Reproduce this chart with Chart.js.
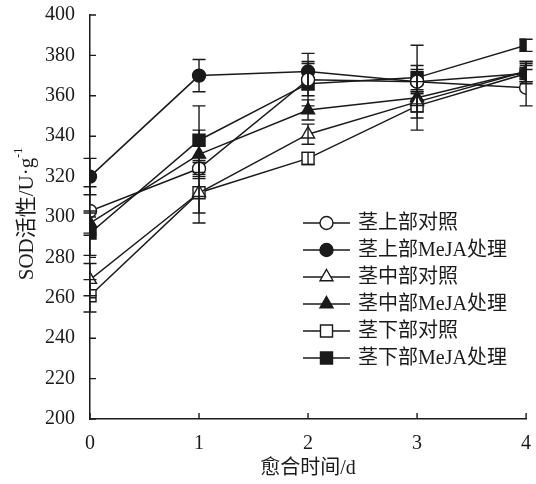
<!DOCTYPE html>
<html>
<head>
<meta charset="utf-8">
<script src="https://cdn.jsdelivr.net/npm/chart.js@4.4.1/dist/chart.umd.min.js"></script>
<style>
  html, body { margin: 0; padding: 0; background: #ffffff; }
  #wrap { width: 536px; height: 484px; }
</style>
</head>
<body>
<div id="wrap"><canvas id="c" width="536" height="484"></canvas></div>
<script>
// Healing time (days)
const days = [0, 1, 2, 3, 4];
const yTicks = [200, 220, 240, 260, 280, 300, 320, 340, 360, 380, 400];

// Series names
const seriesNames = ['茎上部对照', '茎上部MeJA处理', '茎中部对照', '茎中部MeJA处理', '茎下部对照', '茎下部MeJA处理'];

// SOD activity (U·g⁻¹) means
const upperCK    = [303, 324, 368, 367, 364];
const upperMeJA  = [320, 370, 372, 367, 371];
const middleCK   = [269, 312, 341, 357, 372];
const middleMeJA = [297, 331, 353, 359, 372];
const lowerCK    = [261, 312, 329, 355, 371];
const lowerMeJA  = [292, 338, 366, 369, 385];

// Standard errors
const upperCKErr    = [12, 4, 8, 18, 9];
const upperMeJAErr  = [9, 8, 9, 6, 5];
const middleCKErr   = [8, 15, 5, 5, 5];
const middleMeJAErr = [5, 12, 5, 3, 5];
const lowerCKErr    = [8, 10, 3, 12, 4];
const lowerMeJAErr  = [11, 17, 11, 6, 3];

const INK = '#1a1a1a';
const SERIF = "'Liberation Serif', 'Noto Sans CJK SC', serif";

const means = [upperCK, upperMeJA, middleCK, middleMeJA, lowerCK, lowerMeJA];
const errs = [upperCKErr, upperMeJAErr, middleCKErr, middleMeJAErr, lowerCKErr, lowerMeJAErr];
const styles = [
  { shape: 'circle',   filled: false, r: 6.5 },
  { shape: 'circle',   filled: true,  r: 6.5 },
  { shape: 'triangle', filled: false, r: 7.5 },
  { shape: 'triangle', filled: true,  r: 7.5 },
  { shape: 'rect',     filled: false, r: 8.5 },
  { shape: 'rect',     filled: true,  r: 8.5 }
];

const datasets = means.map((vals, k) => ({
  label: seriesNames[k],
  data: days.map((d, i) => ({ x: d, y: vals[i] })),
  errors: errs[k],
  borderColor: INK,
  borderWidth: 1.5,
  pointStyle: styles[k].shape,
  pointRadius: styles[k].r,
  pointBorderWidth: 1.4,
  pointBorderColor: INK,
  pointBackgroundColor: styles[k].filled ? INK : '#ffffff',
  tension: 0,
  fill: false
}));

// Vertical error bars with caps
const errorBars = {
  id: 'errorBars',
  afterDatasetsDraw(chart) {
    const { ctx, scales: { x, y } } = chart;
    ctx.save();
    ctx.strokeStyle = INK;
    ctx.lineWidth = 1.4;
    chart.data.datasets.forEach(ds => {
      ds.data.forEach((p, i) => {
        const e = ds.errors[i];
        const px = x.getPixelForValue(p.x);
        const top = y.getPixelForValue(p.y + e);
        const bot = y.getPixelForValue(p.y - e);
        ctx.beginPath();
        ctx.moveTo(px, top); ctx.lineTo(px, bot);
        ctx.moveTo(px - 6.5, top); ctx.lineTo(px + 6.5, top);
        ctx.moveTo(px - 6.5, bot); ctx.lineTo(px + 6.5, bot);
        ctx.stroke();
      });
    });
    ctx.restore();
  }
};

// Inward tick marks, axis titles and the legend
const decorations = {
  id: 'decorations',
  afterDraw(chart) {
    const { ctx, chartArea: a, scales: { x, y } } = chart;
    ctx.save();
    ctx.strokeStyle = INK;
    ctx.lineWidth = 1.4;
    ctx.beginPath();
    yTicks.forEach(v => {
      const py = y.getPixelForValue(v);
      ctx.moveTo(a.left, py); ctx.lineTo(a.left + 6, py);
    });
    days.forEach(v => {
      const px = x.getPixelForValue(v);
      ctx.moveTo(px, a.bottom); ctx.lineTo(px, a.bottom - 6);
    });
    ctx.stroke();

    // x-axis title
    ctx.fillStyle = INK;
    ctx.font = '20px ' + SERIF;
    ctx.textAlign = 'center';
    ctx.textBaseline = 'middle';
    ctx.fillText('愈合时间/d', (a.left + a.right) / 2, 469);

    // y-axis title with superscript
    const main = 'SOD活性/U·g';
    ctx.font = '21px ' + SERIF;
    const wMain = ctx.measureText(main).width;
    ctx.font = '12px ' + SERIF;
    const wSup = ctx.measureText('-1').width;
    const total = wMain + wSup;
    ctx.translate(27, 214);
    ctx.rotate(-Math.PI / 2);
    ctx.textAlign = 'left';
    ctx.textBaseline = 'middle';
    ctx.font = '21px ' + SERIF;
    ctx.fillText(main, -total / 2, 0);
    ctx.font = '12px ' + SERIF;
    ctx.fillText('-1', -total / 2 + wMain, -8);
    ctx.setTransform(1, 0, 0, 1, 0, 0);

    // legend
    const rows = [223, 250, 277, 304, 331, 358];
    chart.data.datasets.forEach((ds, k) => {
      const ry = rows[k];
      ctx.strokeStyle = INK;
      ctx.lineWidth = 1.4;
      ctx.beginPath();
      ctx.moveTo(303, ry); ctx.lineTo(350, ry);
      ctx.stroke();
      ctx.fillStyle = ds.pointBackgroundColor;
      ctx.strokeStyle = INK;
      Chart.helpers.drawPoint(ctx, {
        pointStyle: ds.pointStyle,
        radius: ds.pointRadius,
        rotation: 0,
        borderWidth: 1.4
      }, 326.5, ry);
      ctx.fillStyle = INK;
      ctx.font = '20px ' + SERIF;
      ctx.textAlign = 'left';
      ctx.textBaseline = 'middle';
      ctx.fillText(ds.label, 358, ry + 1);
    });
    ctx.restore();
  }
};

new Chart(document.getElementById('c'), {
  type: 'line',
  data: { datasets },
  options: {
    responsive: false,
    animation: false,
    layout: { padding: { top: 15, right: 6, left: 0, bottom: 0 } },
    plugins: { legend: { display: false }, tooltip: { enabled: false } },
    scales: {
      x: {
        type: 'linear',
        min: 0, max: 4,
        afterFit(s) { s.height = 65; s.paddingLeft = 0; s.paddingRight = 0; },
        afterUpdate(s) { s.paddingRight = 0; },
        grid: { display: false },
        border: { display: true, color: INK, width: 1.5 },
        ticks: { stepSize: 1, color: INK, font: { family: SERIF, size: 20 }, padding: 5, maxRotation: 0 }
      },
      y: {
        min: 200, max: 400,
        afterFit(s) { s.width = 90; s.paddingTop = 0; s.paddingBottom = 0; },
        grid: { display: false },
        border: { display: true, color: INK, width: 1.5 },
        ticks: { stepSize: 20, color: INK, font: { family: SERIF, size: 20 }, padding: 7 }
      }
    }
  },
  plugins: [errorBars, decorations]
});
</script>
</body>
</html>
